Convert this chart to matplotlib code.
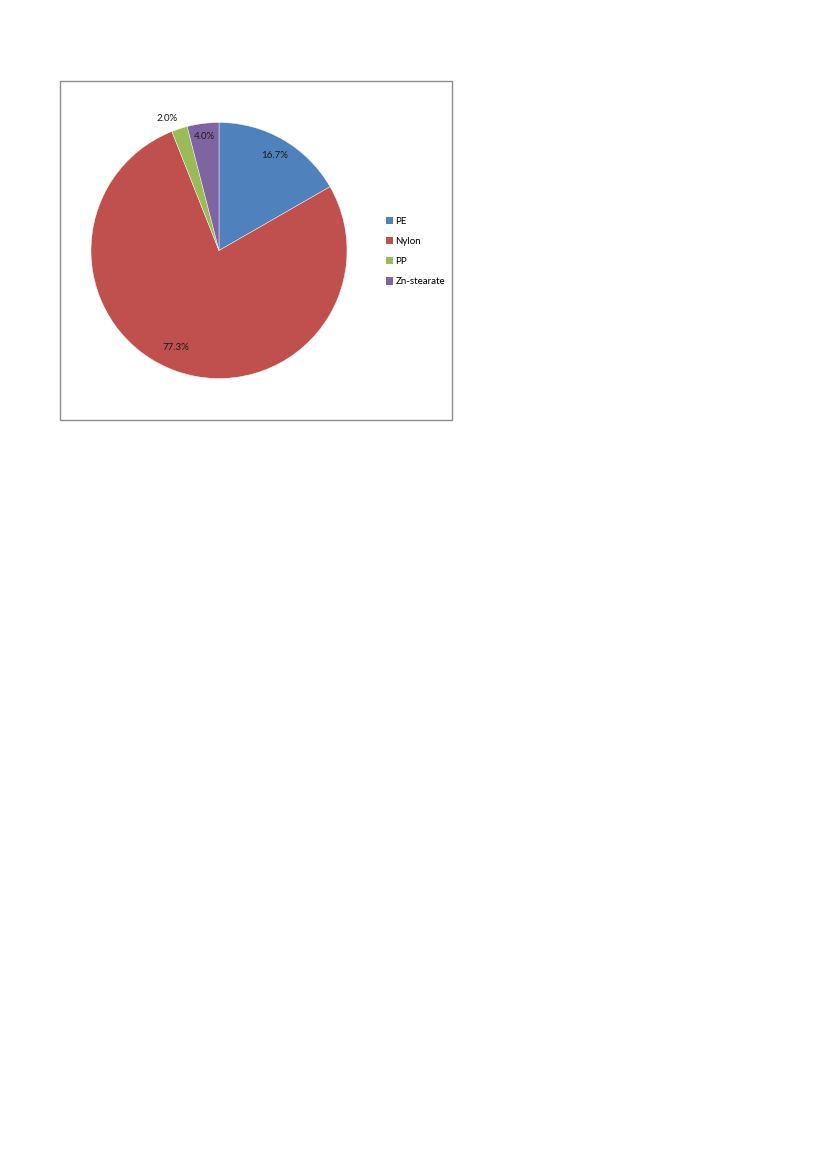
import numpy as np
import matplotlib.pyplot as plt
from matplotlib.patches import Rectangle

materials = ['PE', 'Nylon', 'PP', 'Zn-stearate']
shares = [16.7, 77.3, 2.0, 4.0]
colors = ['#4F81BD', '#C0504D', '#9BBB59', '#8064A2']
# label placement (radius fraction, angle nudge in degrees)
label_dist = [0.86, 0.83, 1.11, 0.90]
label_nudge = [0, -5, 3.5, 0]

W, H = 827, 1170
plt.rcParams['font.family'] = ['Lato', 'DejaVu Sans']

fig = plt.figure(figsize=(W / 100, H / 100), dpi=100)

# chart frame (pixel coords converted to figure fractions)
fx0, fy0, fx1, fy1 = 60, 81, 452, 420
fig.patches.append(Rectangle((fx0 / W, 1 - fy1 / H), (fx1 - fx0) / W, (fy1 - fy0) / H,
                             transform=fig.transFigure, fill=False,
                             edgecolor='#8c8c8c', linewidth=1.0))

cx, cy, r = 219, 250.5, 128
ax = fig.add_axes([(cx - r) / W, 1 - (cy + r) / H, 2 * r / W, 2 * r / H])
wedges, _ = ax.pie(shares, colors=colors, startangle=90, counterclock=False,
                   radius=1, wedgeprops=dict(linewidth=0.3, edgecolor='white'))
ax.set_xlim(-1, 1)
ax.set_ylim(-1, 1)
ax.set_aspect('equal')
ax.axis('off')

for w, val, d, nudge in zip(wedges, shares, label_dist, label_nudge):
    ang = np.deg2rad((w.theta1 + w.theta2) / 2 + nudge)
    ax.text(d * np.cos(ang), d * np.sin(ang), f'{val:.1f}%',
            ha='center', va='center', fontsize=7, color='#1a1a1a')

handles = [Rectangle((0, 0), 1, 1, facecolor=c, edgecolor='none') for c in colors]
fig.legend(handles, materials, loc='upper left',
           bbox_to_anchor=(381 / W, 1 - 212 / H), frameon=False,
           fontsize=7, handlelength=0.75, handleheight=0.75,
           handletextpad=0.25, labelspacing=1.15, borderpad=0)

fig.savefig('out.png', dpi=100, facecolor='white')
